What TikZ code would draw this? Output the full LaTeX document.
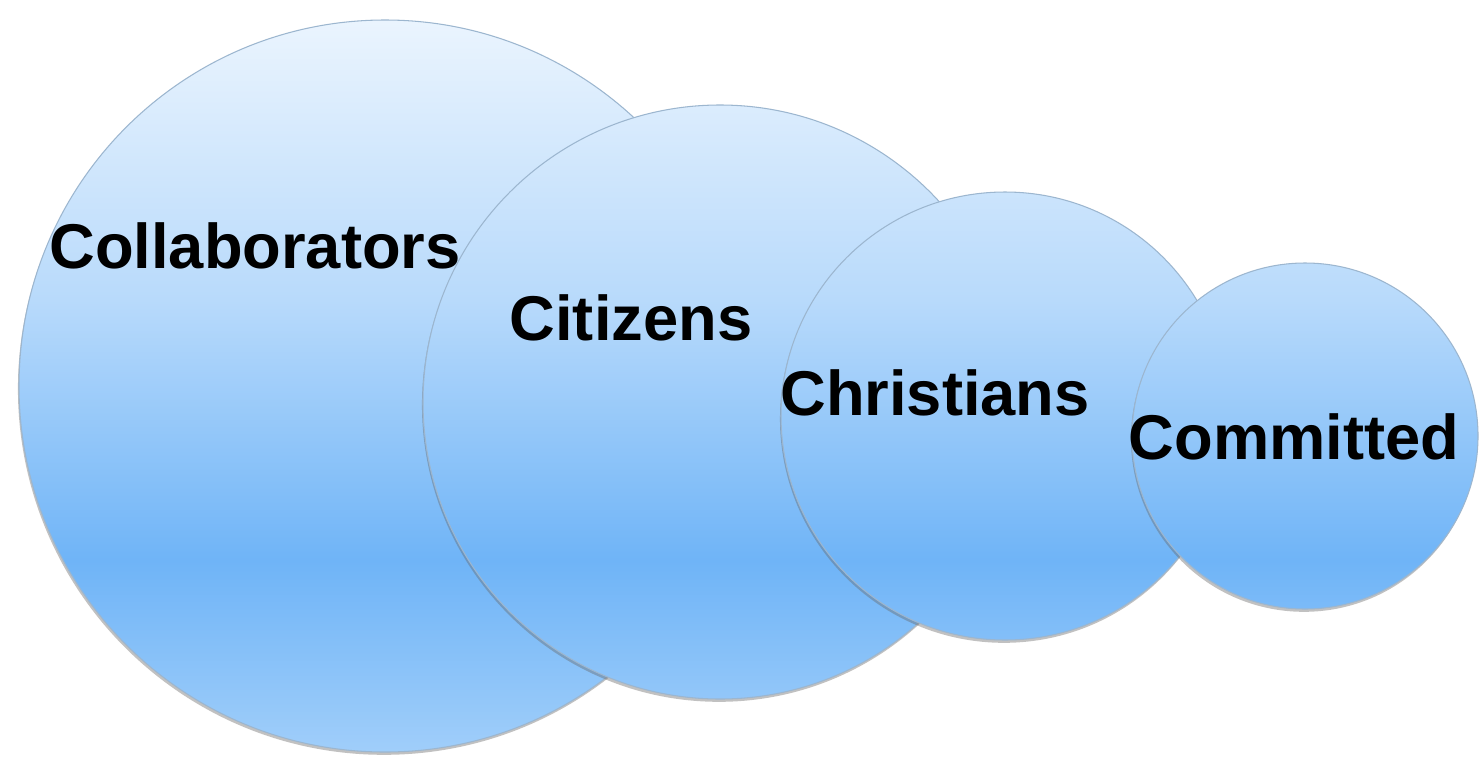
\documentclass[tikz,border=0pt]{standalone}
\usepackage{fontspec}
\setmainfont{Liberation Sans}
\usetikzlibrary{shadows}

\definecolor{bubbletop}{HTML}{EEF6FE}
\definecolor{bubblemid}{HTML}{B8DAFB}
\definecolor{bubbledeep}{HTML}{6FB4F7}
\definecolor{bubblelow}{HTML}{A2CFFA}
\definecolor{bubbleedge}{HTML}{9CB6CF}

% fade from top of the page (75bp) down to its foot (about 49bp)
\pgfdeclareverticalshading{bubblefade}{100bp}{color(0bp)=(bubblelow); color(49.4bp)=(bubblelow);
  color(56.1bp)=(bubbledeep); color(64.9bp)=(bubblemid); color(75bp)=(bubbletop); color(100bp)=(bubbletop)}

\begin{document}
\begin{tikzpicture}[
  bubble/.style={circle, draw=bubbleedge, line width=0.3pt, inner sep=0pt,
    drop shadow={shadow xshift=-0.3pt, shadow yshift=-0.8pt, opacity=0.4, fill=black!60},
    path picture={\shade[shading=bubblefade] (nw) rectangle (sq);}},
  word/.style={font=\fontsize{18}{20}\selectfont\bfseries, inner sep=0pt}
]
\fill[white] (0,0) rectangle (14.84,7.61);
\useasboundingbox (0,0) rectangle (14.84,7.61);

% square that carries the colour fade
\coordinate (nw) at (0,7.61);
\coordinate (sq) at (14.84,-7.23);

\node[bubble, minimum size=7.32cm] (collab) at (3.85,3.75) {};
\node[bubble, minimum size=5.94cm] (citizen) at (7.20,3.59) {};
\node[bubble, minimum size=4.48cm] (christ) at (10.05,3.45) {};
\node[bubble, minimum size=3.46cm] (commit) at (13.05,3.25) {};

\node[word] (collabtext) at (2.55,5.15) {Collaborators};
\node[word] (citizentext) at (6.31,4.43) {Citizens};
\node[word] (christtext) at (9.35,3.68) {Christians};
\node[word] (committext) at (12.94,3.24) {Committed};
\end{tikzpicture}
\end{document}
